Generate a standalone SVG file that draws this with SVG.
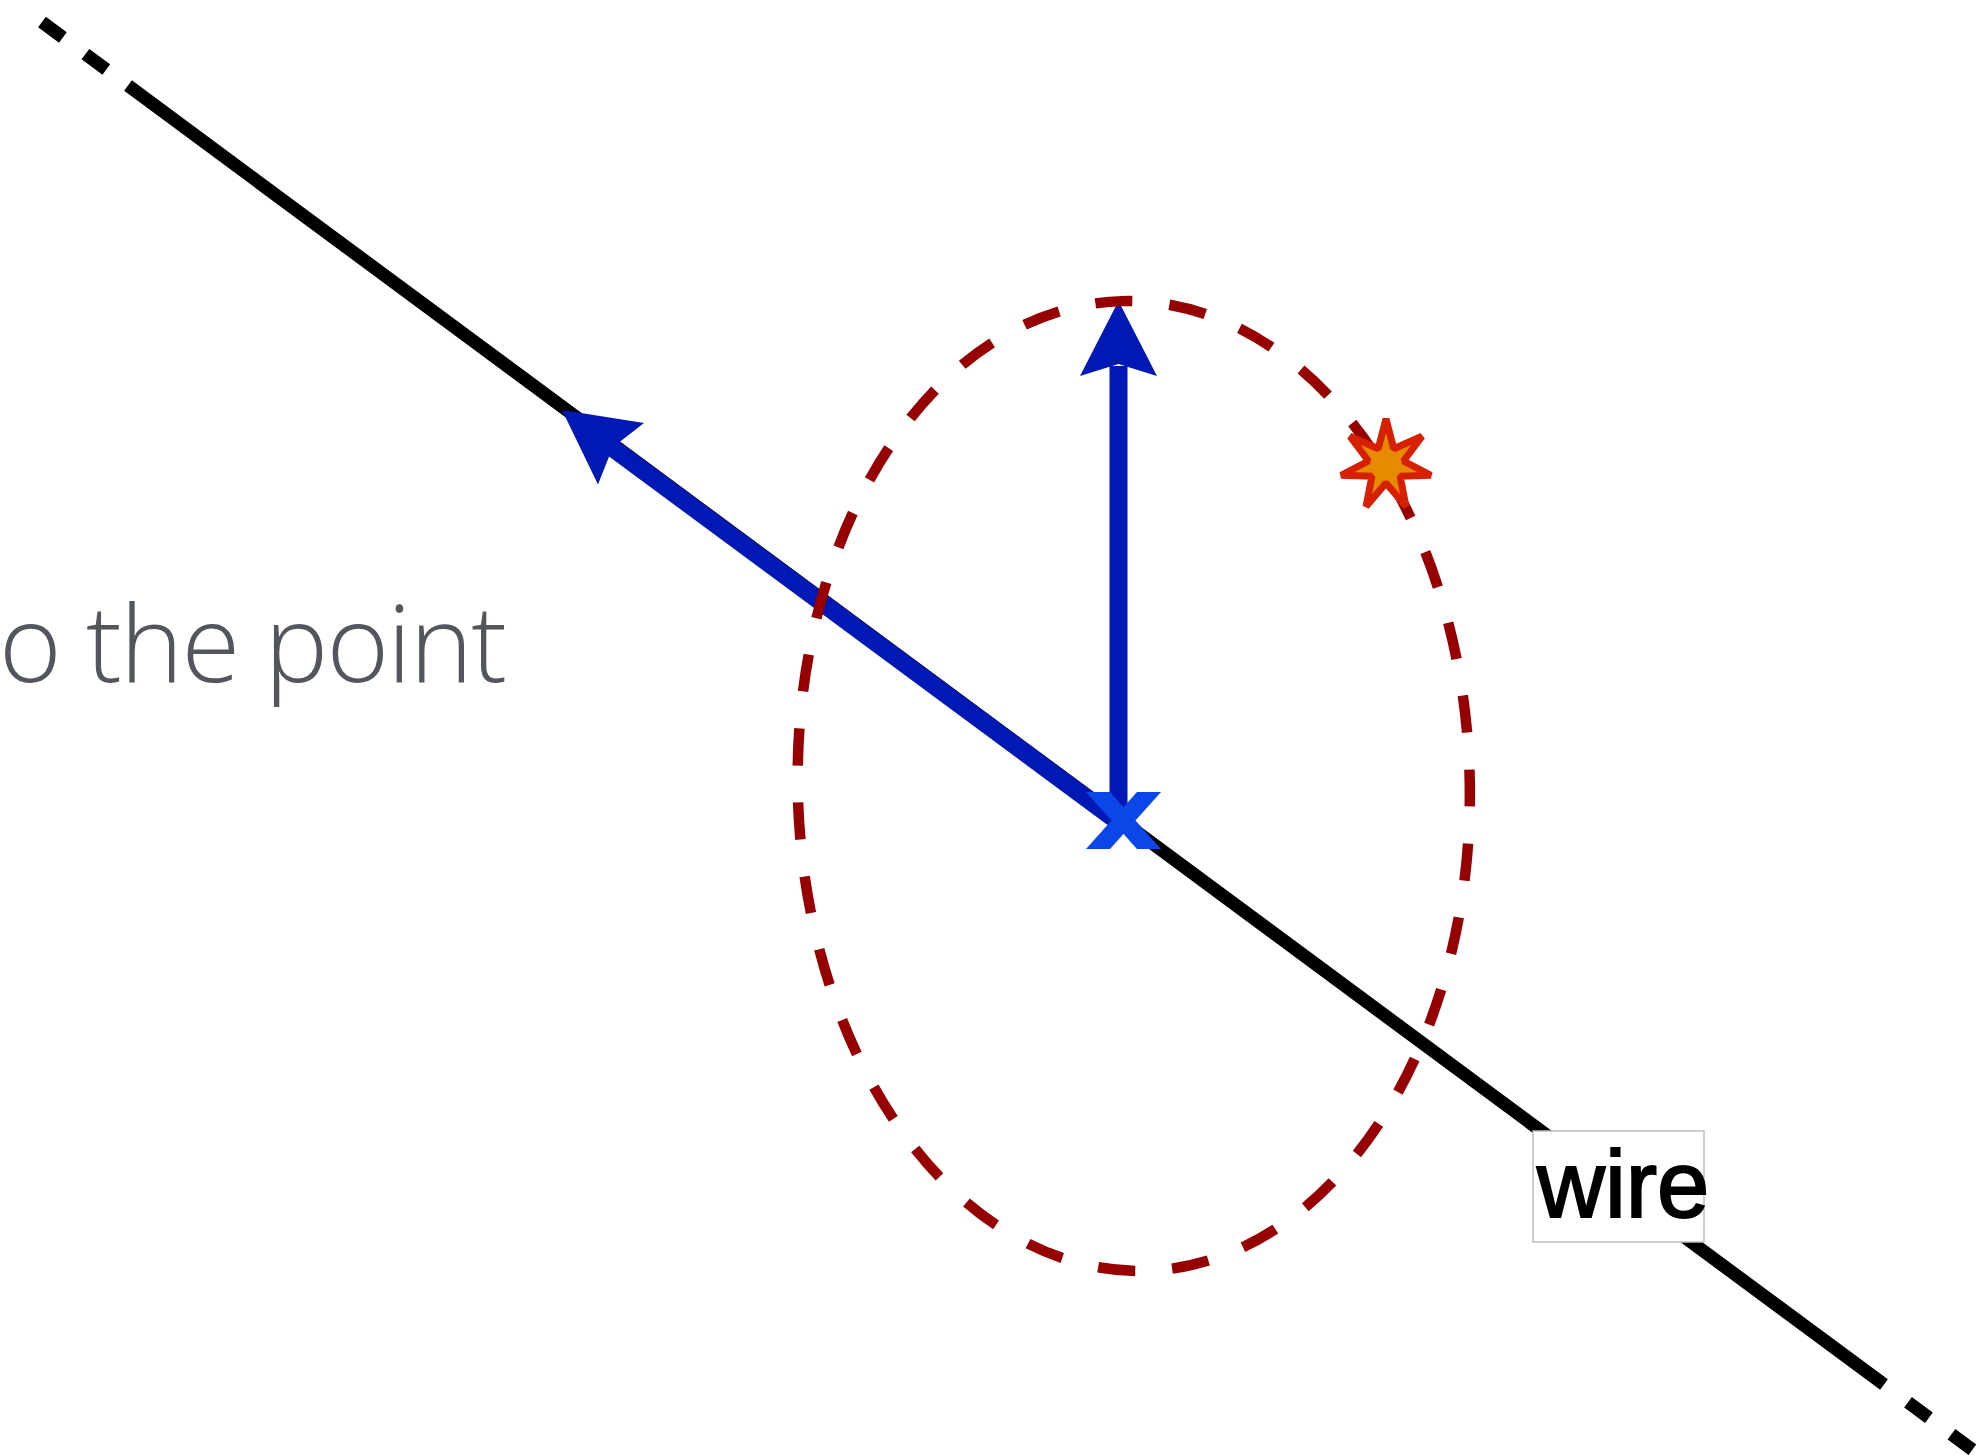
<svg xmlns="http://www.w3.org/2000/svg" width="1978" height="1455" viewBox="0 0 1978 1455">
  <defs>
    <style>
      .wire { stroke: #000; stroke-width: 13; fill: none; stroke-linecap: butt; }
      .wire-dash { stroke-dasharray: 26 28; }
      .arrow { stroke: #0018b4; stroke-width: 18; fill: none; stroke-linecap: butt; }
      .arrowhead { fill: #0018b4; stroke: none; }
      .ellipse { fill: none; stroke: #960000; stroke-width: 10.5; stroke-dasharray: 50 50; stroke-dashoffset: 12; }
      .caption { font-family: "Open Sans", "Inter", "Liberation Sans", sans-serif; font-weight: 350; font-size: 107px; fill: #53575d; }
      .label { font-family: "Liberation Sans", Arial, sans-serif; font-size: 94px; fill: #000; stroke: #000; stroke-width: 2; }
    </style>
  </defs>
  <rect width="1978" height="1455" fill="#fff"/>

  <g id="caption">
    <text class="caption" x="-1" y="682" textLength="508" lengthAdjust="spacing">o the point</text>
  </g>

  <g id="connectors">
    <g id="wire">
      <path class="wire wire-dash" d="M42 22 L128 85.6"/>
      <path class="wire" d="M128 85.6 L1884 1384.6"/>
      <path class="wire wire-dash" d="M1908 1402.3 L2012 1479"/>
    </g>
    <g id="wire-label">
      <rect x="1533" y="1131" width="171" height="111" fill="#fff" stroke="#bfbfbf" stroke-width="1.5"/>
      <text class="label" x="1537" y="1217">wire</text>
    </g>
    <g id="arrow-along-wire">
      <line class="arrow" x1="1120" y1="823" x2="610" y2="446"/>
      <polygon class="arrowhead" points="562,410 644,423 612.6,447.5 598,484.5"/>
    </g>
    <g id="arrow-up">
      <line class="arrow" x1="1118.5" y1="820" x2="1118.5" y2="366"/>
      <polygon class="arrowhead" points="1118.5,301 1157,376 1118.5,364 1080,376"/>
    </g>
  </g>

  <g id="center-marker">
    <polygon fill="#0b46e8" points="1086,792 1110,792 1161,849 1137,849"/>
    <polygon fill="#0b46e8" points="1086,849 1110,849 1161,792 1137,792"/>
  </g>

  <g id="field-circle">
    <ellipse class="ellipse" pathLength="3500" cx="1133.75" cy="786" rx="336" ry="485" transform="rotate(-1.3 1133.75 786)"/>
  </g>

  <g id="point-star">
    <polygon fill="#e68a00" stroke="#d62000" stroke-width="7" stroke-linejoin="bevel"
      points="1386,419 1393.81,448.78 1421.96,436.32 1403.55,461 1430.85,475.24 1400.07,476.22 1405.96,506.45 1386,483 1366.04,506.45 1371.93,476.22 1341.15,475.24 1368.45,461 1350.04,436.32 1378.19,448.78"/>
  </g>
</svg>
